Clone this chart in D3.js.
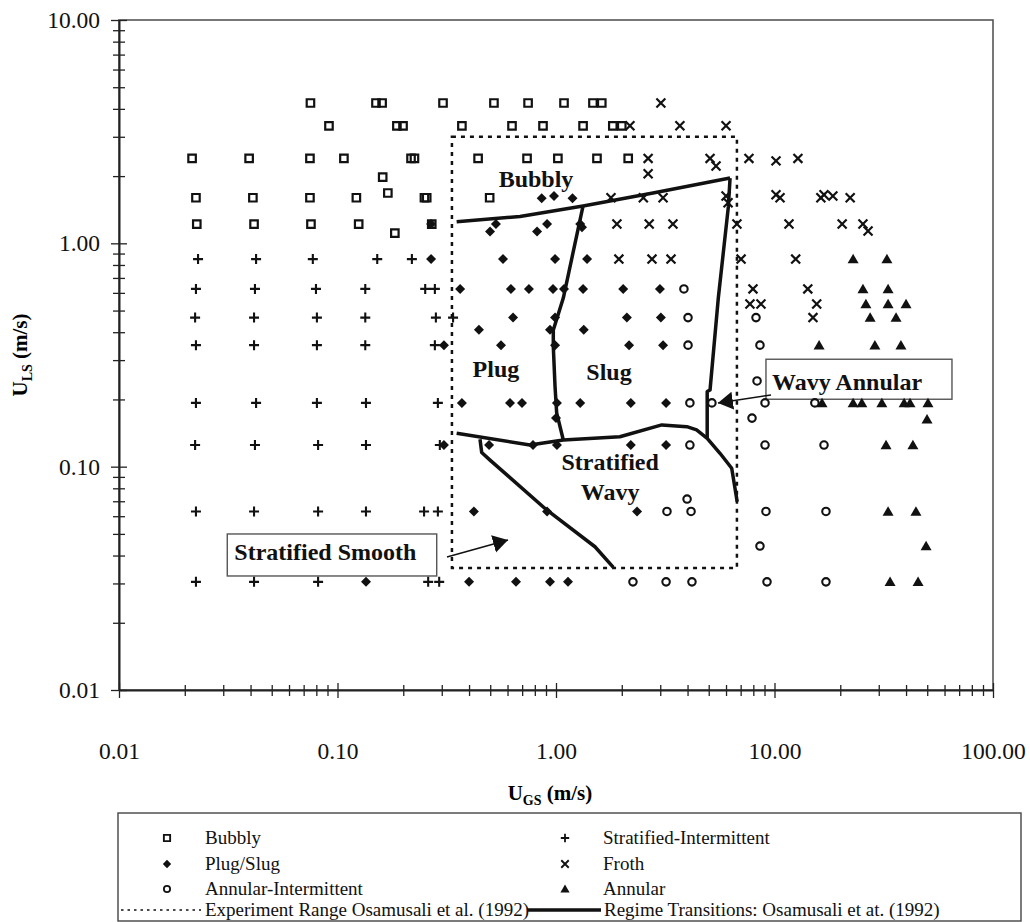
<!DOCTYPE html>
<html>
<head>
<meta charset="utf-8">
<script src="https://cdn.jsdelivr.net/npm/d3@7"></script>
<style>
  body { margin: 0; background: #fff; }
  svg { display: block; font-family: 'Liberation Serif', 'Times New Roman', serif; }
</style>
</head>
<body>
<div id="chart"></div>
<script>
// ---- observed flow points [U_GS, U_LS] in m/s ----
const bubbly = [
  [0.0752, 4.25], [0.150, 4.25], [0.160, 4.25], [0.304, 4.25], [0.520, 4.25], [0.745, 4.25], [1.088, 4.25], [1.476, 4.25], [1.62, 4.25],
  [0.0914, 3.36], [0.187, 3.36], [0.1995, 3.36], [0.371, 3.36], [0.629, 3.36], [0.872, 3.36], [1.33, 3.36], [1.82, 3.36], [2.0, 3.36],
  [0.0216, 2.4], [0.0394, 2.4], [0.0748, 2.4], [0.107, 2.4], [0.217, 2.4], [0.225, 2.4], [0.44, 2.4], [0.737, 2.4], [1.02, 2.4], [1.54, 2.4], [2.14, 2.4],
  [0.161, 1.98], [0.17, 1.68],
  [0.0225, 1.6], [0.041, 1.6], [0.0748, 1.6], [0.122, 1.6], [0.25, 1.6], [0.256, 1.6], [0.497, 1.6],
  [0.0227, 1.22], [0.0415, 1.22], [0.0756, 1.22], [0.125, 1.22], [0.27, 1.22],
  [0.183, 1.11]
];
const stratInt = [
  [0.023, 0.85], [0.0424, 0.85], [0.0771, 0.85], [0.152, 0.85], [0.219, 0.85],
  [0.0225, 0.625], [0.0419, 0.625], [0.0797, 0.625], [0.134, 0.625], [0.252, 0.625], [0.279, 0.625],
  [0.0223, 0.465], [0.0415, 0.465], [0.0805, 0.465], [0.134, 0.465], [0.282, 0.465], [0.338, 0.465],
  [0.0225, 0.35], [0.0415, 0.35], [0.0805, 0.35], [0.134, 0.35], [0.279, 0.35],
  [0.0225, 0.193], [0.0424, 0.193], [0.0805, 0.193], [0.135, 0.193], [0.288, 0.193],
  [0.0223, 0.125], [0.0419, 0.125], [0.0815, 0.125], [0.135, 0.125], [0.294, 0.125],
  [0.0225, 0.063], [0.0415, 0.063], [0.0815, 0.063], [0.135, 0.063], [0.249, 0.063], [0.288, 0.063],
  [0.0225, 0.0305], [0.0415, 0.0305], [0.0815, 0.0305], [0.26, 0.0305], [0.292, 0.0305]
];
const plugSlug = [
  [0.86, 1.59], [0.979, 1.63], [1.19, 1.59],
  [0.268, 1.22], [0.531, 1.22], [0.91, 1.22], [1.29, 1.22],
  [0.499, 1.13], [0.819, 1.13], [1.315, 1.18],
  [0.268, 0.85], [0.572, 0.85], [0.99, 0.85], [1.387, 0.85],
  [0.364, 0.625], [0.622, 0.625], [0.752, 0.625], [0.969, 0.625], [1.088, 0.625], [1.33, 0.625], [2.03, 0.625], [2.99, 0.625],
  [0.636, 0.465], [0.99, 0.465], [2.11, 0.465], [3.02, 0.465],
  [0.444, 0.41], [0.939, 0.41], [1.34, 0.41],
  [0.307, 0.35], [0.56, 0.35], [0.99, 0.35], [2.16, 0.35], [3.09, 0.35],
  [0.371, 0.193], [0.616, 0.193], [0.699, 0.193], [1.01, 0.193], [1.29, 0.193], [2.2, 0.193], [3.19, 0.193],
  [1.0, 0.165],
  [0.307, 0.125], [0.494, 0.125], [0.785, 0.125], [1.01, 0.125], [2.2, 0.125], [3.19, 0.125],
  [0.421, 0.063], [0.91, 0.063], [2.35, 0.063],
  [0.135, 0.0305], [0.40, 0.0305], [0.656, 0.0305], [0.939, 0.0305], [1.135, 0.0305]
];
const froth = [
  [3.02, 4.25],
  [2.18, 3.36], [3.69, 3.36], [6.0, 3.36],
  [2.64, 2.4], [5.07, 2.4], [5.4, 2.22], [7.64, 2.4], [10.16, 2.34], [12.8, 2.4],
  [2.64, 2.05],
  [1.785, 1.6], [2.51, 1.6], [3.09, 1.6], [6.0, 1.63], [6.13, 1.52], [10.16, 1.65], [10.6, 1.6], [16.3, 1.6], [16.85, 1.65], [18.5, 1.63], [22.2, 1.6],
  [1.9, 1.22], [2.67, 1.22], [3.43, 1.22], [6.73, 1.22], [11.65, 1.22], [20.4, 1.22], [25.4, 1.22], [26.8, 1.136],
  [1.94, 0.85], [2.75, 0.85], [3.36, 0.85], [7.03, 0.85], [12.5, 0.85],
  [7.97, 0.625], [14.2, 0.625],
  [7.72, 0.535], [8.67, 0.535], [15.6, 0.535],
  [15.0, 0.465]
];
const annInt = [
  [3.85, 0.625],
  [4.02, 0.465], [8.23, 0.465],
  [4.02, 0.35], [8.58, 0.35],
  [8.32, 0.242],
  [4.1, 0.193], [5.17, 0.193], [9.05, 0.193], [15.3, 0.193],
  [7.89, 0.165],
  [4.1, 0.125], [9.05, 0.125], [16.85, 0.125],
  [3.98, 0.0716],
  [3.22, 0.063], [4.15, 0.063], [9.14, 0.063], [17.2, 0.063],
  [8.58, 0.0441],
  [2.25, 0.0305], [3.19, 0.0305], [4.19, 0.0305], [9.24, 0.0305], [17.2, 0.0305]
];
const annular = [
  [22.9, 0.85], [32.7, 0.85],
  [25.4, 0.625], [33.1, 0.625],
  [26.2, 0.535], [33.1, 0.535], [40.0, 0.535],
  [27.4, 0.465], [36.0, 0.465],
  [16.0, 0.35], [28.8, 0.35], [37.9, 0.35],
  [16.5, 0.193], [22.9, 0.193], [25.1, 0.193], [31.0, 0.193], [39.2, 0.193], [41.7, 0.193], [50.4, 0.193],
  [49.9, 0.163],
  [32.4, 0.125], [43.0, 0.125],
  [33.1, 0.063], [44.4, 0.063],
  [49.4, 0.0441],
  [33.8, 0.0305], [45.4, 0.0305]
];

// ---- Osamusali et al. (1992) regime transitions ----
const transBubbly = [[0.351, 1.25], [0.684, 1.32], [1.33, 1.47], [2.78, 1.68], [6.26, 1.96]];
const transAnnular = [[6.26, 1.96], [6.15, 1.46], [5.53, 0.568], [5.07, 0.2205], [4.92, 0.217], [4.92, 0.134]];
const transSlug = [[1.33, 1.47], [1.08, 0.569], [0.972, 0.409], [0.972, 0.345], [0.99, 0.228], [1.007, 0.174], [1.08, 0.1317]];
const transStrat = [[0.351, 0.141], [0.76, 0.125], [1.08, 0.1317], [1.96, 0.1362], [3.05, 0.1538], [3.97, 0.151],
                    [4.40, 0.146], [4.92, 0.134], [5.63, 0.1148], [6.37, 0.0984], [6.75, 0.0697]];
const transSmooth = [[0.449, 0.1327], [0.457, 0.1158], [0.499, 0.107], [0.907, 0.064], [1.508, 0.0438], [1.83, 0.0354]];

// experiment range (dotted box)
const rangeUgs = [0.334, 6.73];
const rangeUls = [0.0352, 3.0];

const xDecades = [0.01, 0.1, 1, 10, 100];
const yDecades = [0.01, 0.1, 1, 10];

const w = 1030;
const h = 922;

const x = d3.scaleLog().domain([0.01, 100]).range([119, 993]);
const y = d3.scaleLog().domain([0.01, 10]).range([690, 20]);

const svg = d3.select('#chart').append('svg')
  .attr('width', w)
  .attr('height', h);

const fmt = d3.format('.2f');
const isDecade = d => Math.abs(Math.log10(d) - Math.round(Math.log10(d))) < 1e-9;

// plot frame
svg.append('rect')
  .attr('x', x(0.01)).attr('y', y(10))
  .attr('width', x(100) - x(0.01))
  .attr('height', y(0.01) - y(10))
  .attr('fill', 'none')
  .attr('stroke', '#555')
  .attr('stroke-width', 1.6);

// x axis
const gx = svg.append('g')
  .attr('transform', `translate(0,${y(0.01)})`)
  .call(d3.axisBottom(x)
    .tickValues(x.ticks())
    .tickSize(0)
    .tickSizeOuter(0)
    .tickPadding(52)
    .tickFormat(d => xDecades.some(v => Math.abs(v - d) < 1e-9) ? fmt(d) : ''));
gx.select('.domain').attr('stroke', '#222').attr('stroke-width', 2);
gx.selectAll('.tick line')
  .attr('y1', d => isDecade(d) ? -7 : -5)
  .attr('y2', d => isDecade(d) ? 8 : 6)
  .attr('stroke', '#222').attr('stroke-width', 1.3);
gx.selectAll('.tick text')
  .attr('font-family', "'Liberation Serif', serif")
  .attr('font-size', 23.5)
  .attr('fill', '#111');

// y axis
const gy = svg.append('g')
  .attr('transform', `translate(${x(0.01)},0)`)
  .call(d3.axisLeft(y)
    .tickValues(y.ticks())
    .tickSize(0)
    .tickSizeOuter(0)
    .tickPadding(19)
    .tickFormat(d => yDecades.some(v => Math.abs(v - d) < 1e-9) ? fmt(d) : ''));
gy.select('.domain').attr('stroke', '#222').attr('stroke-width', 2);
gy.selectAll('.tick line')
  .attr('x1', d => isDecade(d) ? -8 : -6)
  .attr('x2', d => isDecade(d) ? 8 : 6)
  .attr('stroke', '#222').attr('stroke-width', 1.3);
gy.selectAll('.tick text')
  .attr('font-family', "'Liberation Serif', serif")
  .attr('font-size', 23.5)
  .attr('fill', '#111');

// axis titles
const xt = svg.append('text')
  .attr('x', 550).attr('y', 800)
  .attr('text-anchor', 'middle')
  .attr('font-weight', 'bold').attr('font-size', 21);
xt.append('tspan').text('U');
xt.append('tspan').attr('font-size', 14).attr('dy', 5).text('GS');
xt.append('tspan').attr('dy', -5).text(' (m/s)');

const yt = svg.append('text')
  .attr('transform', 'translate(27,355) rotate(-90)')
  .attr('text-anchor', 'middle')
  .attr('font-weight', 'bold').attr('font-size', 21);
yt.append('tspan').text('U');
yt.append('tspan').attr('font-size', 14).attr('dy', 5).text('LS');
yt.append('tspan').attr('dy', -5).text(' (m/s)');

// arrow head
svg.append('defs').append('marker')
  .attr('id', 'head')
  .attr('markerUnits', 'userSpaceOnUse')
  .attr('markerWidth', 18).attr('markerHeight', 20)
  .attr('refX', 15).attr('refY', 9)
  .attr('orient', 'auto')
  .append('path')
  .attr('d', 'M0,0 L15,9 L0,18 Z')
  .attr('fill', '#111');

// annotation boxes
function box(x0, x1, y0, y1) {
  svg.append('rect')
    .attr('x', x(x0)).attr('y', y(y1))
    .attr('width', x(x1) - x(x0)).attr('height', y(y0) - y(y1))
    .attr('fill', '#fff').attr('stroke', '#555').attr('stroke-width', 1.4);
}
box(9.14, 64.9, 0.2004, 0.3027);
box(0.0313, 0.2845, 0.0324, 0.04996);

// experiment range
svg.append('rect')
  .attr('x', x(rangeUgs[0])).attr('y', y(rangeUls[1]))
  .attr('width', x(rangeUgs[1]) - x(rangeUgs[0]))
  .attr('height', y(rangeUls[0]) - y(rangeUls[1]))
  .attr('fill', 'none')
  .attr('stroke', '#111')
  .attr('stroke-width', 2.5)
  .attr('stroke-dasharray', '4,5');

// transitions
const line = d3.line().x(d => x(d[0])).y(d => y(d[1]));
[transBubbly, transAnnular, transSlug, transStrat, transSmooth].forEach(t => {
  svg.append('path')
    .attr('d', line(t))
    .attr('fill', 'none')
    .attr('stroke', '#111')
    .attr('stroke-width', 3.5)
    .attr('stroke-linejoin', 'round');
});

// arrows
function arrow(a, b) {
  svg.append('line')
    .attr('x1', x(a[0])).attr('y1', y(a[1]))
    .attr('x2', x(b[0])).attr('y2', y(b[1]))
    .attr('stroke', '#111').attr('stroke-width', 1.6)
    .attr('marker-end', 'url(#head)');
}
arrow([9.64, 0.2095], [5.51, 0.1929]);
arrow([0.317, 0.0394], [0.603, 0.047]);

// region labels
const labels = [
  {t: 'Bubbly', u: 0.81, v: 1.795, a: 'middle'},
  {t: 'Plug', u: 0.531, v: 0.253, a: 'middle'},
  {t: 'Slug', u: 1.748, v: 0.2445, a: 'middle'},
  {t: 'Stratified', u: 1.77, v: 0.0966, a: 'middle'},
  {t: 'Wavy', u: 1.77, v: 0.071, a: 'middle'},
  {t: 'Wavy Annular', u: 9.74, v: 0.2206, a: 'start'},
  {t: 'Stratified Smooth', u: 0.088, v: 0.0382, a: 'middle'}
];
svg.selectAll('.lbl')
  .data(labels)
  .enter()
  .append('text')
  .attr('x', d => x(d.u)).attr('y', d => y(d.v))
  .attr('text-anchor', d => d.a)
  .attr('font-weight', 'bold')
  .attr('font-size', 24)
  .attr('fill', '#111')
  .text(d => d.t);

// marker shapes
const plusType = {draw(ctx, s) { const r = Math.sqrt(s) / 2; ctx.moveTo(-r, 0); ctx.lineTo(r, 0); ctx.moveTo(0, -r); ctx.lineTo(0, r); }};
const timesType = {draw(ctx, s) { const r = Math.sqrt(s) / 2; ctx.moveTo(-r, -r); ctx.lineTo(r, r); ctx.moveTo(r, -r); ctx.lineTo(-r, r); }};
const triType = {draw(ctx, s) { const r = Math.sqrt(s) / 2; ctx.moveTo(0, -r * 1.05); ctx.lineTo(r * 1.1, r * 0.85); ctx.lineTo(-r * 1.1, r * 0.85); ctx.closePath(); }};

const series = [
  {data: bubbly, type: d3.symbolSquare, size: 56, fill: 'none', stroke: 2.2, rot: 0},
  {data: plugSlug, type: d3.symbolSquare, size: 50, fill: '#111', stroke: 0, rot: 45},
  {data: annInt, type: d3.symbolCircle, size: 44, fill: 'none', stroke: 2.1, rot: 0},
  {data: stratInt, type: plusType, size: 100, fill: 'none', stroke: 2.1, rot: 0},
  {data: froth, type: timesType, size: 80, fill: 'none', stroke: 2.2, rot: 0},
  {data: annular, type: triType, size: 100, fill: '#111', stroke: 0, rot: 0}
];

series.forEach(s => {
  svg.append('g')
    .selectAll('path')
    .data(s.data)
    .enter()
    .append('path')
    .attr('transform', d => `translate(${x(d[0])},${y(d[1])}) rotate(${s.rot})`)
    .attr('d', d3.symbol().type(s.type).size(s.size))
    .attr('fill', s.fill)
    .attr('stroke', s.stroke ? '#111' : 'none')
    .attr('stroke-width', s.stroke);
});

// legend
const legend = svg.append('g');
legend.append('rect')
  .attr('x', 118).attr('y', 813)
  .attr('width', 903).attr('height', 108)
  .attr('fill', 'none').attr('stroke', '#444').attr('stroke-width', 1.4);

const legendItems = [
  {t: 'Bubbly', s: series[0], cx: 167, row: 0},
  {t: 'Plug/Slug', s: series[1], cx: 167, row: 1},
  {t: 'Annular-Intermittent', s: series[2], cx: 167, row: 2},
  {t: 'Stratified-Intermittent', s: series[3], cx: 565, row: 0},
  {t: 'Froth', s: series[4], cx: 565, row: 1},
  {t: 'Annular', s: series[5], cx: 565, row: 2}
];
const rowY = [838, 864, 889, 910];

legendItems.forEach(it => {
  legend.append('path')
    .attr('transform', `translate(${it.cx},${rowY[it.row]}) rotate(${it.s.rot})`)
    .attr('d', d3.symbol().type(it.s.type).size(it.s.size * 0.7))
    .attr('fill', it.s.fill)
    .attr('stroke', it.s.stroke ? '#111' : 'none')
    .attr('stroke-width', it.s.stroke * 0.85);
  legend.append('text')
    .attr('x', it.cx + 38).attr('y', rowY[it.row] + 6)
    .attr('font-size', 19).attr('fill', '#111')
    .text(it.t);
});

legend.append('line')
  .attr('x1', 121).attr('x2', 201).attr('y1', rowY[3]).attr('y2', rowY[3])
  .attr('stroke', '#111').attr('stroke-width', 1.6).attr('stroke-dasharray', '2.5,4');
legend.append('text')
  .attr('x', 205).attr('y', rowY[3] + 6)
  .attr('font-size', 19).attr('fill', '#111')
  .text('Experiment Range Osamusali et al. (1992)');
legend.append('line')
  .attr('x1', 527).attr('x2', 601).attr('y1', rowY[3]).attr('y2', rowY[3])
  .attr('stroke', '#111').attr('stroke-width', 3.5);
legend.append('text')
  .attr('x', 604).attr('y', rowY[3] + 6)
  .attr('font-size', 19).attr('fill', '#111')
  .text('Regime Transitions: Osamusali et at. (1992)');
</script>
</body>
</html>
